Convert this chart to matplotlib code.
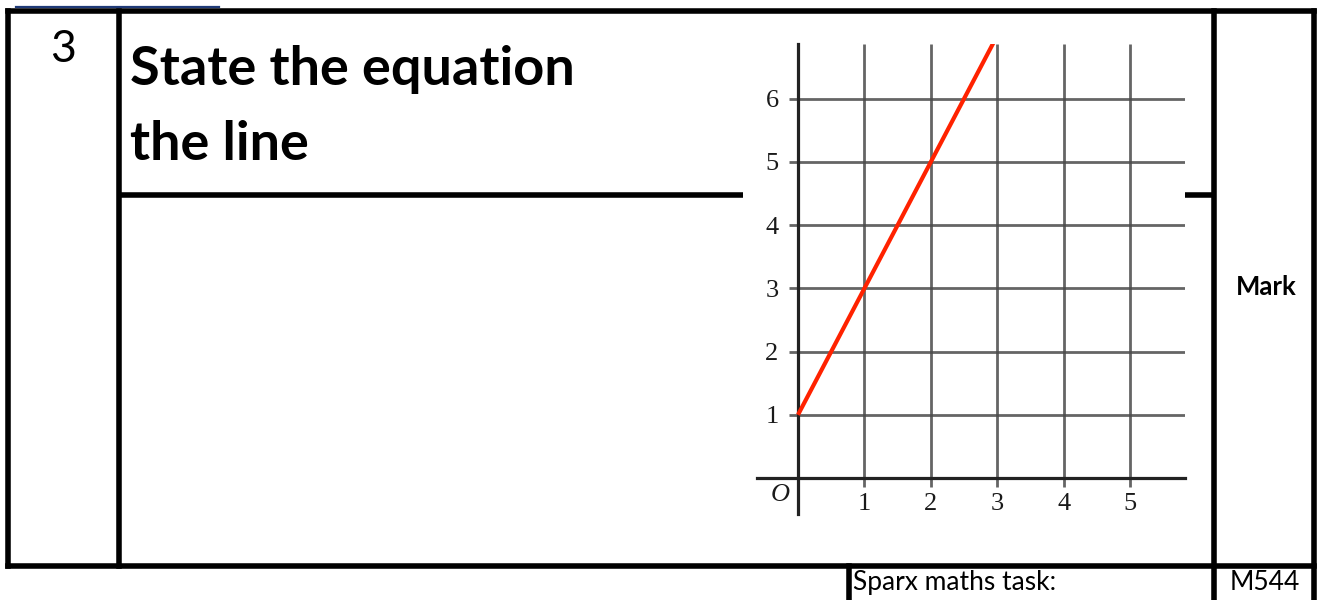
import matplotlib
matplotlib.use("Agg")
import matplotlib.pyplot as plt

# ---- data ----
question_number = "3"
question_lines = ["State the equation", "the line"]
mark_label = "Mark"
task_label = "Sparx maths task:"
task_code = "M544"

x_ticks = [1, 2, 3, 4, 5]
y_ticks = [1, 2, 3, 4, 5, 6]
x_tick_labels = ["1", "2", "3", "4", "5"]
y_tick_labels = ["1", "2", "3", "4", "5", "6"]
line_x = [0, 3]
line_y = [1, 7]

W, H = 1317, 600
fig = plt.figure(figsize=(W / 100, H / 100), dpi=100)
fig.patch.set_facecolor("white")

# background axes in pixel coordinates for the worksheet table
bg = fig.add_axes([0, 0, 1, 1])
bg.set_xlim(0, W)
bg.set_ylim(H, 0)
bg.axis("off")

lw = 4.0
k = dict(color="black", lw=lw, solid_capstyle="projecting")
bg.plot([8, 1314], [11, 11], **k)            # top
bg.plot([8, 1314], [566, 566], **k)          # bottom
bg.plot([8, 8], [11, 566], **k)              # left
bg.plot([119, 119], [11, 566], **k)          # number column divider
bg.plot([1214, 1214], [11, 600], **k)        # mark column divider
bg.plot([1314, 1314], [11, 600], **k)        # right
bg.plot([120, 743], [195, 195], color="black", lw=lw, solid_capstyle="butt")
bg.plot([1185, 1214], [195, 195], color="black", lw=lw, solid_capstyle="butt")
bg.plot([849, 849], [566, 600], **k)         # sparx box divider
bg.plot([16, 219], [7, 7], color="#1f3a78", lw=1.6)

font = ["Lato", "DejaVu Sans"]
bg.text(63, 62, question_number, fontsize=32, family=font, ha="center", va="baseline")
bg.text(130, 85, question_lines[0], fontsize=39, family=font, fontweight="bold",
        ha="left", va="baseline")
bg.text(130, 160, question_lines[1], fontsize=39, family=font, fontweight="bold",
        ha="left", va="baseline")
bg.text(1266, 287, mark_label, fontsize=18.5, family=font, fontweight="bold",
        ha="center", va="center")
bg.text(853, 590, task_label, fontsize=19, family=font, ha="left", va="baseline")
bg.text(1265, 590, task_code, fontsize=19, family=font, ha="center", va="baseline")

# ---- graph ----
px_x = 66.4
px_y = 63.2
x0_px, y0_px = 798, 478
left_px, right_px, top_px, bot_px = 757, 1185, 44, 514
ax = fig.add_axes([left_px / W, (H - bot_px) / H,
                   (right_px - left_px) / W, (bot_px - top_px) / H])
ax.set_xlim(-(x0_px - left_px) / px_x, (right_px - x0_px) / px_x)
ax.set_ylim(-(bot_px - y0_px) / px_y, (y0_px - top_px) / px_y)
ax.patch.set_alpha(0)

for s in ["top", "right"]:
    ax.spines[s].set_visible(False)
for s in ["left", "bottom"]:
    ax.spines[s].set_position("zero")
    ax.spines[s].set_color("#222222")
    ax.spines[s].set_linewidth(2.3)

xmin, xmax = ax.get_xlim()
ymin, ymax = ax.get_ylim()
tick_x = -9 / px_x
tick_y = -9 / px_y
ax.hlines(y_ticks, tick_x, xmax, color="#4a4a4a", lw=2.0, alpha=0.85, zorder=1)
ax.vlines(x_ticks, tick_y, ymax, color="#4a4a4a", lw=2.0, alpha=0.85, zorder=1)

ax.plot(line_x, line_y, color="#ff2200", lw=3.0, zorder=3, solid_capstyle="butt")

ax.set_xticks(x_ticks)
ax.set_xticklabels(x_tick_labels)
ax.set_yticks(y_ticks)
ax.set_yticklabels(y_tick_labels)
serif = "Liberation Serif"
ax.tick_params(axis="both", length=0, labelsize=19, colors="#1a1a1a")
ax.tick_params(axis="x", pad=11)
ax.tick_params(axis="y", pad=14)
for lab in ax.get_xticklabels() + ax.get_yticklabels():
    lab.set_family(serif)
ax.text(-0.27, -0.27, "O", family=serif, style="italic", fontsize=19,
        ha="center", va="center", color="#1a1a1a")

fig.savefig("out.png", dpi=100, facecolor="white")
